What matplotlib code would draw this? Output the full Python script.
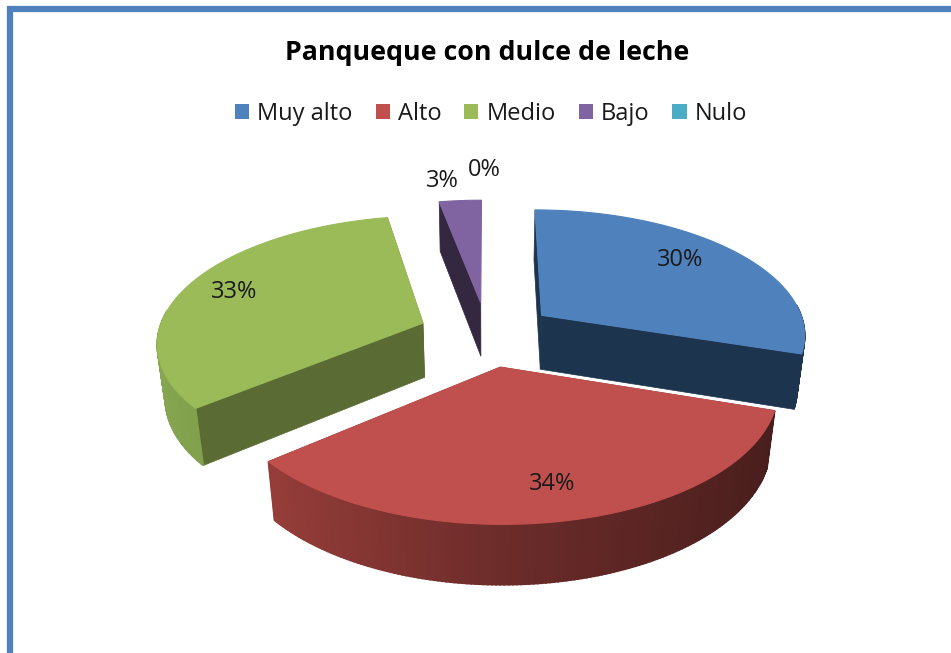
# exploded 3d style pie, Panqueque con dulce de leche
import numpy as np
import matplotlib
matplotlib.use('Agg')
import matplotlib.pyplot as plt
from matplotlib.patches import Polygon, Patch, Rectangle

categories = ['Muy alto', 'Alto', 'Medio', 'Bajo', 'Nulo']
values = [30, 34, 33, 3, 0]
percent_labels = ['30%', '34%', '33%', '3%', '0%']
label_pos = [(680, 260), (552, 484), (234, 292), (442, 181), (484, 170)]
top_colors = ['#4F81BD', '#C0504D', '#9BBB59', '#8064A2', '#4BACC6']
side_colors = ['#1D344E', '#6E2D2A', '#5A6B33', '#33283F', '#2A6373']
title = 'Panqueque con dulce de leche'

# projection of the pie onto the picture, in pixels
cx, cy = 487, 334
A, B = 265, 125
K, KZ, DEPTH = 0.14, 0.025, 56
EXPLODE = 0.26
font = 'Open Sans'


def project(x, y, z=0):
    w = 1 + K * y + KZ * z
    return cx + A * x / w, cy + (DEPTH * z - B * y) / w


def red_wall(s):
    return [np.interp(s, [-0.8, 0, 0.95], c) / 255 for c in ([152, 108, 72], [62, 44, 30], [58, 42, 28])]


def green_wall(s):
    return [np.interp(s, [-1, -0.75], c) / 255 for c in ([135, 128], [166, 160], [82, 76])]


fig = plt.figure(figsize=(9.51, 6.53), dpi=100)
ax = fig.add_axes([0, 0, 1, 1])
ax.set_xlim(0, 951)
ax.set_ylim(653, 0)
ax.axis('off')
ax.add_patch(Rectangle((10, 9), 960, 680, fc='white', ec='#4F81BD', lw=4.5))

fractions = np.array(values) / sum(values)
ends = np.cumsum(fractions) * 2 * np.pi
starts = ends - fractions * 2 * np.pi

# back slices first, red before blue so the blue wall stays on top
for i in [3, 2, 1, 0]:
    t = np.linspace(starts[i], ends[i], 160)
    mid = (starts[i] + ends[i]) / 2
    ox, oy = EXPLODE * np.sin(mid), EXPLODE * np.cos(mid)
    rx, ry = ox + np.sin(t), oy + np.cos(t)

    # the far cut of the small slice faces away from the viewer
    for k in ([0] if i == 3 else [0, -1]):
        wall = [project(ox, oy), project(rx[k], ry[k]), project(rx[k], ry[k], 1), project(ox, oy, 1)]
        ax.add_patch(Polygon(wall, fc=side_colors[i], ec=side_colors[i], lw=0.5))

    for k in range(len(t) - 1):
        if np.cos(t[k]) > 0.1:
            continue
        quad = [project(rx[k], ry[k]), project(rx[k + 1], ry[k + 1]),
                project(rx[k + 1], ry[k + 1], 1), project(rx[k], ry[k], 1)]
        if i == 1:
            col = red_wall(np.sin(t[k]))
        elif i == 2:
            col = green_wall(np.sin(t[k]))
        else:
            col = side_colors[i]
        ax.add_patch(Polygon(quad, fc=col, ec=col, lw=1.2))

    top = [project(ox, oy)] + [project(a, b) for a, b in zip(rx, ry)]
    ax.add_patch(Polygon(top, fc=top_colors[i], ec=top_colors[i], lw=0.8))

for txt, (px, py) in zip(percent_labels, label_pos):
    ax.text(px, py, txt, ha='center', va='center', fontsize=17, color='#1a1a1a', family=font)

ax.text(487, 53, title, ha='center', va='center', fontsize=19.3, fontweight='bold', color='black', family=font)

handles = [Patch(fc=c, ec='none') for c in top_colors]
ax.legend(handles, categories, ncol=5, loc='center', bbox_to_anchor=(491 / 951, 1 - 114 / 653),
          frameon=False, handlelength=0.6, handleheight=0.6, handletextpad=0.34,
          columnspacing=0.97, prop={'family': font, 'size': 17}, labelcolor='#1a1a1a')

fig.savefig('out.png', dpi=100)
